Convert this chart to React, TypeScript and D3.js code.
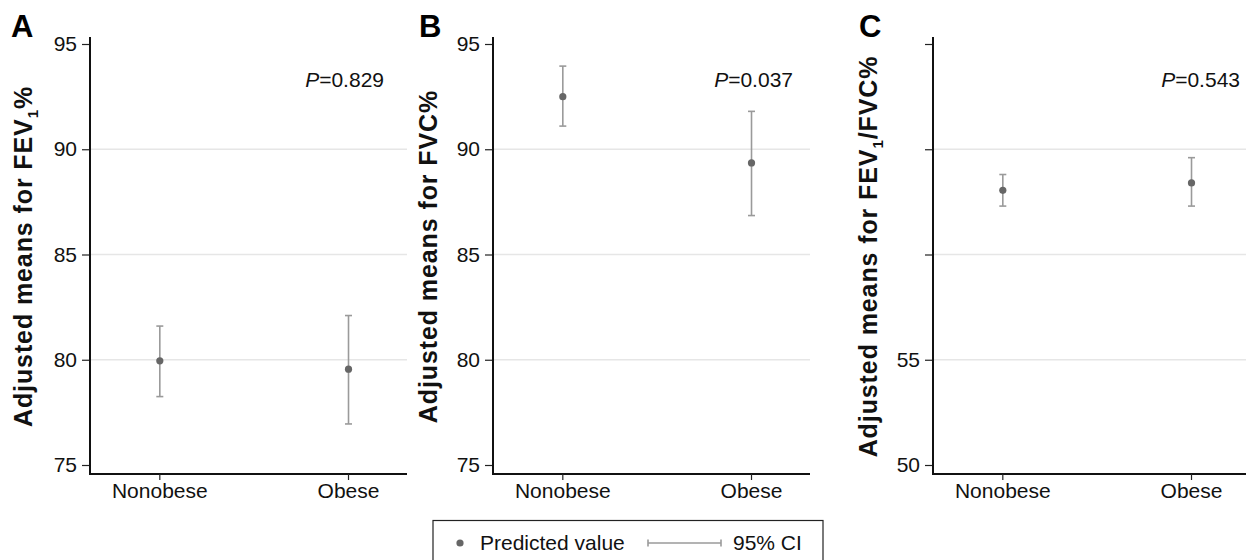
import React, { useEffect, useRef } from 'react';
import * as d3 from 'd3';

const groups = ['Nonobese', 'Obese'];

// adjusted means and 95% CI per panel (Nonobese, Obese)
const fevMeans = [79.95, 79.55];
const fevLower = [78.25, 76.95];
const fevUpper = [81.6, 82.1];

const fvcMeans = [92.5, 89.35];
const fvcLower = [91.1, 86.85];
const fvcUpper = [93.95, 91.8];

const ratioMeans = [63.05, 63.4];
const ratioLower = [62.3, 62.3];
const ratioUpper = [63.8, 64.6];

const fevTicks = [75, 80, 85, 90, 95];
const fvcTicks = [75, 80, 85, 90, 95];
const ratioTicks = [50, 55, 60, 65, 70];
const ratioTickLabels = ['50', '55', '', '', ''];

const pValues = ['0.829', '0.037', '0.543'];
const panelLetters = ['A', 'B', 'C'];

const FONT = 'Arial, "Liberation Sans", Helvetica, sans-serif';

export default function App() {
  const svgRef = useRef(null);

  useEffect(() => {
    const svg = d3.select(svgRef.current);
    svg.selectAll('*').remove();

    const panels = [
      { left: 90, means: fevMeans, lo: fevLower, hi: fevUpper, ticks: fevTicks, labels: fevTicks.map(String), title: 'FEV1', titleX: 32, letterX: 11, pX: 294 },
      { left: 493, means: fvcMeans, lo: fvcLower, hi: fvcUpper, ticks: fvcTicks, labels: fvcTicks.map(String), title: 'FVC', titleX: 437, letterX: 419, pX: 300 },
      { left: 933, means: ratioMeans, lo: ratioLower, hi: ratioUpper, ticks: ratioTicks, labels: ratioTickLabels, title: 'RATIO', titleX: 877, letterX: 859, pX: 307 },
    ];

    const top = 44, bottom = 465, axisY = 474, width = 317;

    panels.forEach((p, i) => {
      const g = svg.append('g').attr('transform', `translate(${p.left},0)`);
      const lo = p.ticks[0], hi = p.ticks[p.ticks.length - 1];
      const y = d3.scaleLinear().domain([lo, hi]).range([bottom, top]);
      const x = d3.scaleLinear().domain([-0.37, 1.31]).range([0, width]);

      // gridlines (inner ticks only)
      g.selectAll('line.grid')
        .data(p.ticks.slice(1, -1))
        .enter().append('line')
        .attr('x1', 0).attr('x2', width)
        .attr('y1', d => y(d)).attr('y2', d => y(d))
        .attr('stroke', '#e6e6e6').attr('stroke-width', 1.3);

      // y axis
      const yAxis = d3.axisLeft(y).tickValues(p.ticks).tickSize(8).tickPadding(5)
        .tickFormat((d, k) => p.labels[k]);
      const ya = g.append('g').call(yAxis);
      ya.select('.domain').remove();
      ya.selectAll('text').attr('font-size', 21).attr('font-family', FONT).attr('fill', '#111');
      ya.selectAll('line').attr('stroke', '#222').attr('stroke-width', 1.2);
      g.append('line').attr('x1', 0).attr('x2', 0).attr('y1', 37).attr('y2', axisY + 1)
        .attr('stroke', '#111').attr('stroke-width', 2);

      // x axis
      g.append('line').attr('x1', 0).attr('x2', width).attr('y1', axisY).attr('y2', axisY)
        .attr('stroke', '#111').attr('stroke-width', 2);
      g.selectAll('line.xt').data(groups).enter().append('line')
        .attr('x1', (d, k) => x(k)).attr('x2', (d, k) => x(k))
        .attr('y1', axisY).attr('y2', axisY + 6)
        .attr('stroke', '#222').attr('stroke-width', 1.2);
      g.selectAll('text.xl').data(groups).enter().append('text')
        .attr('x', (d, k) => x(k)).attr('y', 498)
        .attr('text-anchor', 'middle').attr('font-size', 21).attr('font-family', FONT).attr('fill', '#111')
        .text(d => d);

      // CI bars
      const ci = g.selectAll('g.ci').data(groups).enter().append('g');
      ci.append('line')
        .attr('x1', (d, k) => x(k)).attr('x2', (d, k) => x(k))
        .attr('y1', (d, k) => y(p.lo[k])).attr('y2', (d, k) => y(p.hi[k]))
        .attr('stroke', '#9a9a9a').attr('stroke-width', 1.6);
      ['lo', 'hi'].forEach(key => {
        ci.append('line')
          .attr('x1', (d, k) => x(k) - 3.5).attr('x2', (d, k) => x(k) + 3.5)
          .attr('y1', (d, k) => y(p[key][k])).attr('y2', (d, k) => y(p[key][k]))
          .attr('stroke', '#9a9a9a').attr('stroke-width', 1.6);
      });
      ci.append('circle')
        .attr('cx', (d, k) => x(k)).attr('cy', (d, k) => y(p.means[k]))
        .attr('r', 3.6).attr('fill', '#666');

      // P value
      const pt = g.append('text').attr('x', p.pX).attr('y', 87)
        .attr('text-anchor', 'end').attr('font-size', 21).attr('font-family', FONT).attr('fill', '#111');
      pt.append('tspan').attr('font-style', 'italic').text('P');
      pt.append('tspan').text('=' + pValues[i]);

      // panel letter
      svg.append('text').attr('x', p.letterX).attr('y', 37)
        .attr('font-size', 31).attr('font-weight', 'bold').attr('font-family', FONT).attr('fill', '#000')
        .text(panelLetters[i]);

      // y title
      const t = svg.append('text')
        .attr('transform', `translate(${p.titleX},${(top + bottom) / 2 + 2}) rotate(-90)`)
        .attr('text-anchor', 'middle').attr('font-size', 25).attr('font-weight', 'bold')
        .attr('letter-spacing', 0.9)
        .attr('font-family', FONT).attr('fill', '#111');
      if (p.title === 'FEV1') {
        t.append('tspan').text('Adjusted means for FEV');
        t.append('tspan').attr('font-size', 15).attr('dy', 6).text('1');
        t.append('tspan').attr('dy', -6).text('%');
      } else if (p.title === 'FVC') {
        t.text('Adjusted means for FVC%');
      } else {
        t.append('tspan').text('Adjusted means for FEV');
        t.append('tspan').attr('font-size', 15).attr('dy', 6).text('1');
        t.append('tspan').attr('dy', -6).text('/FVC%');
      }
    });

    // legend
    const lg = svg.append('g');
    lg.append('rect').attr('x', 433).attr('y', 520.5).attr('width', 390).attr('height', 50)
      .attr('fill', 'none').attr('stroke', '#222').attr('stroke-width', 1.2);
    lg.append('circle').attr('cx', 460).attr('cy', 543).attr('r', 3.6).attr('fill', '#666');
    lg.append('text').attr('x', 480).attr('y', 550).attr('font-size', 21).attr('font-family', FONT)
      .attr('fill', '#111').text('Predicted value');
    lg.append('line').attr('x1', 648).attr('x2', 721).attr('y1', 543).attr('y2', 543)
      .attr('stroke', '#9a9a9a').attr('stroke-width', 1.6);
    [648, 721].forEach(cx => {
      lg.append('line').attr('x1', cx).attr('x2', cx).attr('y1', 539.5).attr('y2', 546.5)
        .attr('stroke', '#9a9a9a').attr('stroke-width', 1.6);
    });
    lg.append('text').attr('x', 733).attr('y', 550).attr('font-size', 21).attr('font-family', FONT)
      .attr('fill', '#111').text('95% CI');
  }, []);

  return (
    <div style={{ position: 'absolute', left: 0, top: 0 }}>
      <svg ref={svgRef} width={1246} height={560} style={{ display: 'block', background: '#fff' }} />
    </div>
  );
}
